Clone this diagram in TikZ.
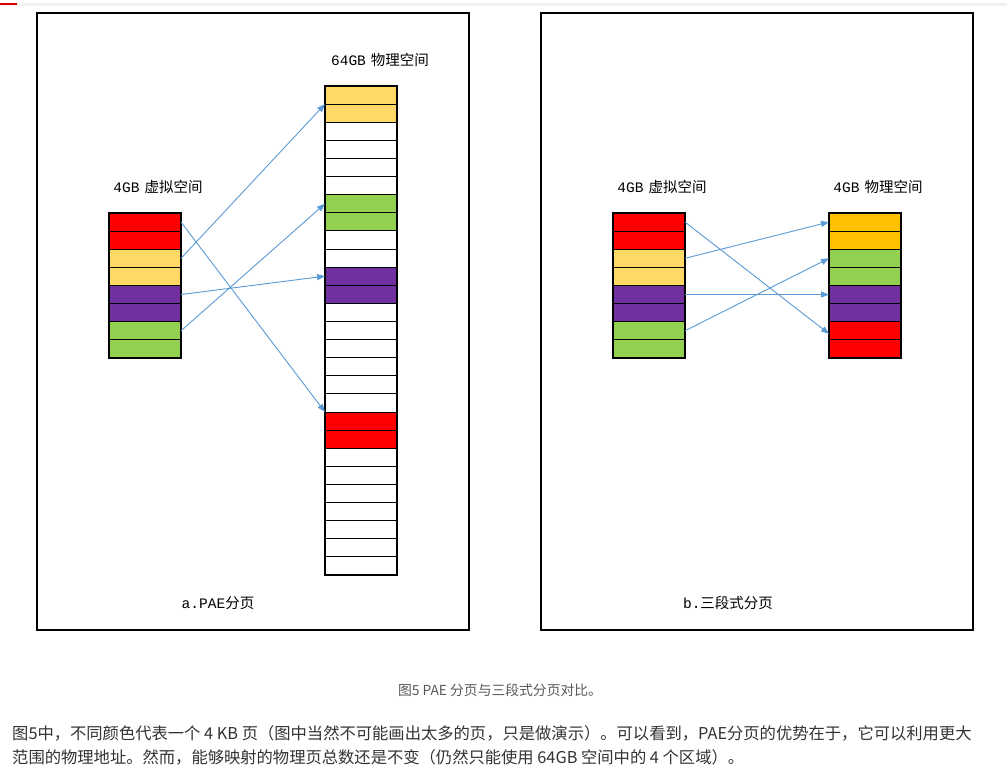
\documentclass[tikz,border=0pt]{standalone}
\usepackage{fontspec}
\usepackage{tikz}
\usetikzlibrary{arrows.meta}
\newfontfamily\cjk{Noto Sans CJK SC}
\newfontfamily\lat{Liberation Mono}
\definecolor{pgred}{HTML}{FF0000}
\definecolor{pgyellow}{HTML}{FFD966}
\definecolor{pgorange}{HTML}{FFC000}
\definecolor{pgpurple}{HTML}{7030A0}
\definecolor{pggreen}{HTML}{92D050}
\definecolor{maparrow}{HTML}{5B9BD5}
\newcommand{\spacelbl}[2]{{\lat #1}\hspace{5pt}{\cjk #2}}

\begin{document}
\begin{tikzpicture}[x=1pt, y=-1pt,
  panel/.style={draw, line width=2pt},
  cell/.style={draw, line width=0.9pt, anchor=north west, inner sep=0pt, outer sep=0pt,
               minimum width=72pt, minimum height=18.12pt},
  stackbox/.style={draw, line width=2.6pt},
  lbl/.style={font=\fontsize{14.5}{16}\selectfont, inner sep=0pt},
  map/.style={maparrow, line width=0.9pt, -{Triangle[length=8pt,width=6pt]}},
  para/.style={font=\cjk\fontsize{16.3}{18}\selectfont, text=black!80, anchor=west, inner sep=0pt}]
\useasboundingbox[fill=white] (0,0) rectangle (1007,780);
% page header
\fill[black!5] (0,3) rectangle (1007,6);
\fill[pgred!85!black] (0,3) rectangle (17,5);

% the two panels
\draw[panel] (37,13) rectangle (469,630);
\draw[panel] (541,13) rectangle (973,630);

% a. PAE paging: 4GB virtual space
\foreach \c [count=\i from 0] in {pgred,pgred,pgyellow,pgyellow,pgpurple,pgpurple,pggreen,pggreen}
  \node[cell, fill=\c] (va\i) at (109,{213+18.12*\i}) {};
\draw[stackbox] (va0.north west) rectangle (va7.south east);
\node[lbl] (vatitle) at (158,187) {\spacelbl{4GB}{虚拟空间}};

% 64GB physical space, 27 pages
\foreach \i in {0,...,26}
  \node[cell, fill=white] (pa\i) at (325,{86+18.11*\i}) {};
\foreach \i/\c in {0/pgyellow,1/pgyellow,6/pggreen,7/pggreen,10/pgpurple,11/pgpurple,18/pgred,19/pgred}
  \node[cell, fill=\c] at (pa\i.north west) {};
\draw[stackbox] (pa0.north west) rectangle (pa26.south east);
\node[lbl] (patitle) at (380,60) {\spacelbl{64GB}{物理空间}};

\draw[map] (va2.east) -- (pa0.south west);
\draw[map] (va0.east) -- (pa18.north west);
\draw[map] (va4.east) -- (pa10.west);
\draw[map] (va6.east) -- (pa6.west);

\node[lbl] (acap) at (218,603) {{\lat a.PAE}{\cjk 分页}};

% b. three-level paging
\foreach \c [count=\i from 0] in {pgred,pgred,pgyellow,pgyellow,pgpurple,pgpurple,pggreen,pggreen}
  \node[cell, fill=\c] (vb\i) at (613,{213+18.12*\i}) {};
\draw[stackbox] (vb0.north west) rectangle (vb7.south east);
\node[lbl] (vbtitle) at (662,187) {\spacelbl{4GB}{虚拟空间}};

\foreach \c [count=\i from 0] in {pgorange,pgorange,pggreen,pggreen,pgpurple,pgpurple,pgred,pgred}
  \node[cell, fill=\c] (pb\i) at (829,{213+18.12*\i}) {};
\draw[stackbox] (pb0.north west) rectangle (pb7.south east);
\node[lbl] (pbtitle) at (878,187) {\spacelbl{4GB}{物理空间}};

\draw[map] (vb0.east) -- ([yshift=-3pt]pb6.west);
\draw[map] (vb2.east) -- (pb0.west);
\draw[map] (vb4.east) -- (pb4.west);
\draw[map] (vb6.east) -- (pb2.west);

\node[lbl] (bcap) at (728,603) {{\lat b.}{\cjk 三段式分页}};

% caption and text below
\node[font=\cjk\fontsize{13.8}{15}\selectfont, text=black!65, inner sep=0pt] (figcap) at (500,690) {图5 PAE 分页与三段式分页对比。};
\node[para] (line1) at (12,733) {图5中，不同颜色代表一个 4 KB 页（图中当然不可能画出太多的页，只是做演示）。可以看到，PAE分页的优势在于，它可以利用更大};
\node[para] (line2) at (12,757) {范围的物理地址。然而，能够映射的物理页总数还是不变（仍然只能使用 64GB 空间中的 4 个区域）。};
\end{tikzpicture}
\end{document}
